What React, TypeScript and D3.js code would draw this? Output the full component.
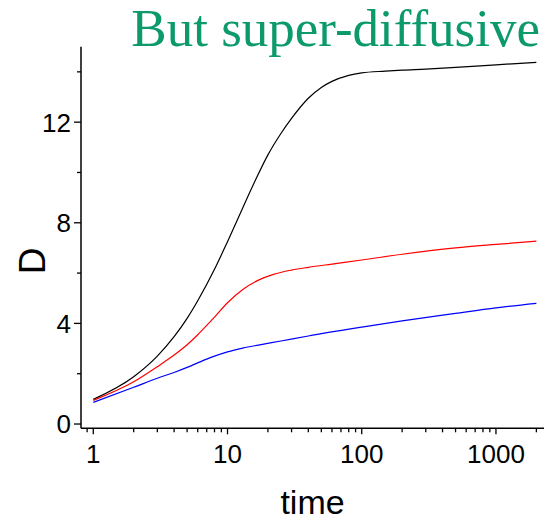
import React from "react";
import * as d3 from "d3";

const titleText = "But super-diffusive";
const xLabel = "time";
const yLabel = "D";

const xMajorTicks = [1, 10, 100, 1000];
const xMinorTicks = [0.9, 2, 3, 4, 5, 6, 7, 8, 9, 20, 30, 40, 50, 60, 70, 80, 90, 200, 300, 400, 500, 600, 700, 800, 900, 2000];
const yMajorTicks = [0, 4, 8, 12];
const yMinorTicks = [2, 6, 10, 14];

const blackT = [1, 2, 3, 4, 5, 6, 8, 10, 13, 16, 20, 25, 30, 40, 50, 60, 80, 100, 150, 200, 300, 500, 1000, 2000];
const blackD = [0.98, 1.88, 2.7, 3.47, 4.2, 4.9, 6.15, 7.25, 8.6, 9.65, 10.7, 11.55, 12.15, 12.95, 13.38, 13.62, 13.86, 13.96, 14.03, 14.07, 14.11, 14.18, 14.28, 14.38];

const redT = [1, 2, 3, 4, 5, 6, 7, 8, 10, 13, 17, 22, 30, 40, 60, 100, 200, 500, 1000, 2000];
const redD = [0.94, 1.68, 2.28, 2.74, 3.15, 3.55, 3.92, 4.25, 4.82, 5.35, 5.72, 5.95, 6.12, 6.23, 6.36, 6.52, 6.75, 7.0, 7.14, 7.27];

const blueT = [1, 2, 3, 4, 5, 6, 7, 8, 10, 13, 17, 25, 40, 100, 200, 500, 1000, 2000];
const blueD = [0.86, 1.46, 1.82, 2.05, 2.25, 2.43, 2.58, 2.7, 2.87, 3.02, 3.14, 3.3, 3.5, 3.85, 4.1, 4.4, 4.62, 4.8];

const series = [
  { t: blackT, d: blackD, color: "#000000" },
  { t: redT, d: redD, color: "#ff0000" },
  { t: blueT, d: blueD, color: "#0000ff" },
];

const W = 548;
const H = 520;
const left = 81;
const right = 544;
const top = 46.7;
const bottom = 428.3;

export default function App() {
  const x = d3.scaleLog().domain([0.81, 2280]).range([left, right]);
  const y = d3.scaleLinear().domain([-0.17, 15]).range([bottom, top]);
  const line = d3
    .line<[number, number]>()
    .x((p) => x(p[0]))
    .y((p) => y(p[1]))
    .curve(d3.curveMonotoneX);
  const font = "'Liberation Sans', Arial, sans-serif";
  return (
    <svg
      width={W}
      height={H}
      style={{ position: "absolute", left: 0, top: 0, background: "#fff" }}
    >
      <text
        x={540}
        y={46}
        textAnchor="end"
        fontFamily="'Liberation Serif', 'Times New Roman', serif"
        fontSize={53}
        fill="#0c9a6d"
      >
        {titleText}
      </text>
      {series.map((s, i) => (
        <path
          key={i}
          d={line(s.t.map((t, j) => [t, s.d[j]] as [number, number])) || ""}
          fill="none"
          stroke={s.color}
          strokeWidth={1.2}
        />
      ))}
      <line x1={left} x2={left} y1={top} y2={bottom} stroke="#000" strokeWidth={1.5} />
      <line x1={left} x2={right} y1={bottom} y2={bottom} stroke="#000" strokeWidth={1.5} />
      {yMajorTicks.map((v) => (
        <g key={"ym" + v}>
          <line x1={left - 7} x2={left} y1={y(v)} y2={y(v)} stroke="#000" strokeWidth={1.3} />
          <text x={71} y={y(v)} dy="0.36em" textAnchor="end" fontFamily={font} fontSize={26}>
            {v}
          </text>
        </g>
      ))}
      {yMinorTicks.map((v) => (
        <line key={"yn" + v} x1={left - 4} x2={left} y1={y(v)} y2={y(v)} stroke="#000" strokeWidth={1.3} />
      ))}
      {xMajorTicks.map((v) => (
        <g key={"xm" + v}>
          <line x1={x(v)} x2={x(v)} y1={bottom} y2={bottom + 6} stroke="#000" strokeWidth={1.3} />
          <text x={x(v)} y={463.3} textAnchor="middle" fontFamily={font} fontSize={26}>
            {v}
          </text>
        </g>
      ))}
      {xMinorTicks.map((v) => (
        <line key={"xn" + v} x1={x(v)} x2={x(v)} y1={bottom} y2={bottom + 4} stroke="#000" strokeWidth={1.3} />
      ))}
      <text x={(left + right) / 2} y={514} textAnchor="middle" fontFamily={font} fontSize={34}>
        {xLabel}
      </text>
      <text
        transform={`translate(45, 261) rotate(-90)`}
        textAnchor="middle"
        fontFamily={font}
        fontSize={37}
      >
        {yLabel}
      </text>
    </svg>
  );
}
